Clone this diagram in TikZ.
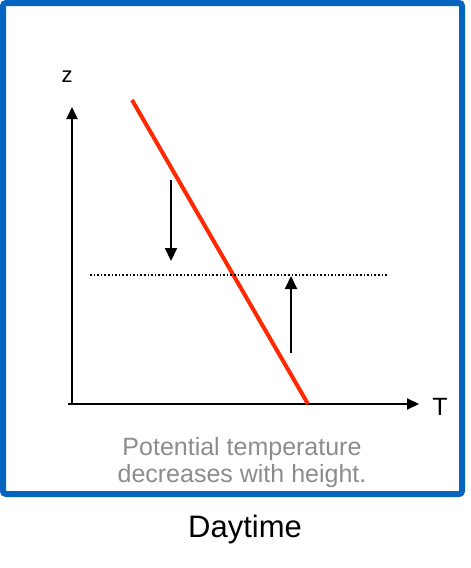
\documentclass[tikz,border=0pt]{standalone}
\usepackage{fontspec}
\setmainfont{Liberation Sans}
\usetikzlibrary{arrows.meta}
\definecolor{framebl}{RGB}{4,100,192}
\definecolor{profred}{RGB}{255,40,0}
\definecolor{notegray}{RGB}{140,140,140}
\tikzset{
  axis/.style={line width=2pt, -{Triangle[length=12pt,width=11pt]}},
  parcel/.style={line width=2pt, -{Triangle[length=13pt,width=12pt]}},
}
\begin{document}
\begin{tikzpicture}[x=1pt, y=-1pt]
  \useasboundingbox (0,0) rectangle (471,568);
  % Frame
  \draw[framebl, line width=6pt, rounded corners=3pt] (3,3) rectangle (462,494);
  % Axes
  \draw[axis] (72,404) -- (72,107);
  \draw[axis] (68,404) -- (419,404);
  \node (zlab) at (67,77) {\fontsize{22}{24}\selectfont z};
  \node (tlab) at (440,407) {\fontsize{25}{28}\selectfont T};
  % Profile
  \draw[profred, line width=4pt] (132,100) -- (308,404);
  % Level
  \draw[line width=1.6pt, dotted] (90,275) -- (388,275);
  % Parcels
  \draw[parcel] (171,180) -- (171,261);
  \draw[parcel] (291,353) -- (291,276);
  % Labels
  \node[notegray, align=center, font=\fontsize{25}{27}\selectfont] (note) at (242,463)
    {Potential temperature\\decreases with height.};
  \node[font=\fontsize{31}{34}\selectfont] (title) at (245,529) {Daytime};
\end{tikzpicture}
\end{document}
